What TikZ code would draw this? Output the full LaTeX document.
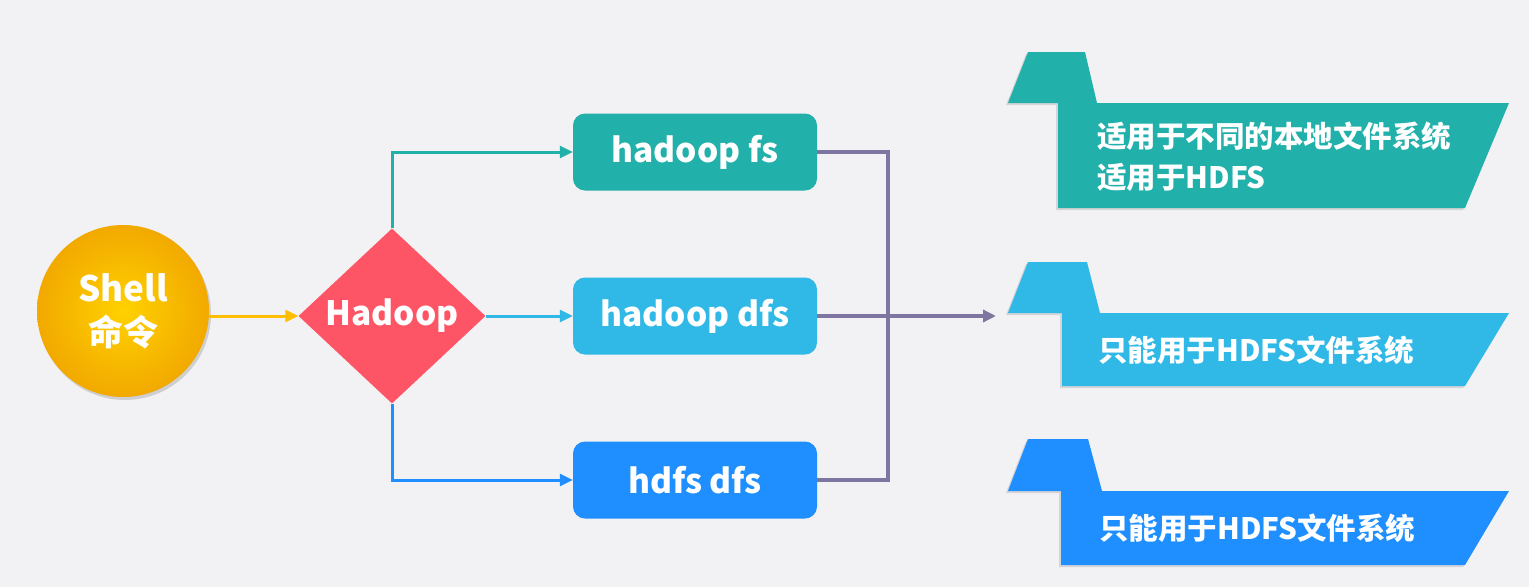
\documentclass[tikz,border=0pt]{standalone}
\usepackage{fontspec}
\setmainfont{Noto Sans CJK SC}
\usetikzlibrary{shapes.geometric,arrows.meta,shadows}
\definecolor{bgc}{HTML}{F2F1F3}
\definecolor{tealc}{HTML}{22B0AA}
\definecolor{lbluec}{HTML}{30B8E6}
\definecolor{bluec}{HTML}{1F8FFF}
\definecolor{redc}{HTML}{FE5566}
\definecolor{orangec}{HTML}{FFBE00}
\definecolor{orangeedge}{HTML}{F2A900}
\definecolor{purplec}{HTML}{7E76A0}
\tikzset{
  cmdbox/.style={rounded corners=12pt, minimum width=244pt, minimum height=77pt, inner sep=0pt,
    text=white, font=\bfseries\fontsize{33.5}{38}\selectfont},
  conn/.style={line width=3pt, -{Triangle[length=13pt,width=12pt]}},
  pline/.style={line width=3.5pt, color=purplec},
  bantext/.style={anchor=west, text=white, align=left, inner sep=0pt,
    font=\bfseries\fontsize{29.5}{41}\selectfont},
  banshadow/.style={drop shadow={opacity=0.25, shadow xshift=-2pt, shadow yshift=-2pt}}
}
\begin{document}
\begin{tikzpicture}[x=1pt,y=-1pt]
\fill[bgc] (0,0) rectangle (1529,587);
\useasboundingbox (0,0) rectangle (1529,587);

% Shell circle
\node[circle, minimum size=172pt, inner sep=0pt, inner color=orangec!70!yellow, outer color=orangeedge,
  drop shadow={opacity=0.3, shadow xshift=2pt, shadow yshift=-3pt},
  text=white, align=center, font=\bfseries\fontsize{35}{44}\selectfont] (shell) at (123,311) {Shell\\命令};

% Hadoop diamond
\node[diamond, fill=redc, minimum width=187pt, minimum height=175pt, inner sep=0pt, aspect=1,
  text=white, font=\bfseries\fontsize{33.5}{36}\selectfont] (hadoop) at (392,316) {Hadoop};

% command boxes
\node[cmdbox, fill=tealc] (fs) at (695,152) {hadoop fs};
\node[cmdbox, fill=lbluec] (dfs) at (695,316) {hadoop dfs};
\node[cmdbox, fill=bluec] (hdfs) at (695,480) {hdfs dfs};

% connectors
\draw[conn, color=orangec] (shell.east |- hadoop.west) -- (hadoop.west);
\draw[conn, color=tealc] (hadoop.north) |- (fs.west);
\draw[conn, color=lbluec] (hadoop.east) -- (dfs.west);
\draw[conn, color=bluec] (hadoop.south) |- (hdfs.west);

\coordinate (jx) at (888,316);
\coordinate (tgt) at (996,316);
\draw[pline] (fs.east) -- (fs.east -| jx) -- (hdfs.east -| jx) -- (hdfs.east);
\draw[pline, -{Triangle[length=13pt,width=12pt]}] (dfs.east) -- (tgt);

% banners
\fill[tealc, banshadow] (1028,52) -- (1085,52) -- (1097,103) -- (1509,103) -- (1465,208) -- (1058,208) -- (1058,103) -- (1008,103) -- cycle;
\node[bantext] (b1) at (1097,157) {适用于不同的本地文件系统\\适用于HDFS};

\fill[lbluec, banshadow] (1028,262) -- (1087,262) -- (1100,313) -- (1509,313) -- (1465,386) -- (1062,386) -- (1062,313) -- (1008,313) -- cycle;
\node[bantext] (b2) at (1098,350) {只能用于HDFS文件系统};

\fill[bluec, banshadow] (1028,439) -- (1088,439) -- (1102,491) -- (1509,491) -- (1465,565) -- (1061,565) -- (1061,491) -- (1008,491) -- cycle;
\node[bantext] (b3) at (1099,528) {只能用于HDFS文件系统};
\end{tikzpicture}
\end{document}
